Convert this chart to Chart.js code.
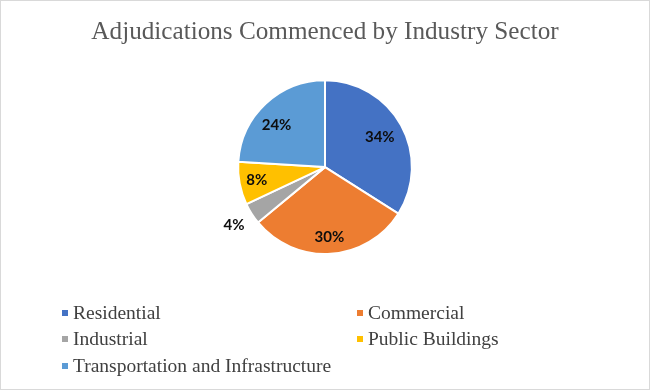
<!DOCTYPE html>
<html>
<head>
<meta charset="utf-8">
<script src="https://cdn.jsdelivr.net/npm/chart.js@4"></script>
<style>
  html, body { margin: 0; padding: 0; background: #fff; }
  #wrap { position: relative; width: 650px; height: 390px; }
  #frame { position: absolute; left: 0; top: 0; width: 650px; height: 390px; box-sizing: border-box; border: 1px solid #d9d9d9; pointer-events: none; }
  .legend-item { position: absolute; font-family: "Liberation Serif", "Times New Roman", serif; font-size: 19.5px; color: #404040; white-space: nowrap; line-height: 20px; }
  .legend-item span { display: inline-block; width: 6px; height: 6px; margin-right: 5px; vertical-align: middle; position: relative; top: -2px; }
</style>
</head>
<body>
<div id="wrap">
  <canvas id="pie" width="650" height="390"></canvas>
  <div id="legend"></div>
  <div id="frame"></div>
</div>
<script>
// data
const sectors = ['Residential', 'Commercial', 'Industrial', 'Public Buildings', 'Transportation and Infrastructure'];
const shares = [34, 30, 4, 8, 24];
const colours = ['#4472C4', '#ED7D31', '#A5A5A5', '#FFC000', '#5B9BD5'];

// percent labels drawn on / beside each slice
const sliceLabels = {
  id: 'sliceLabels',
  afterDatasetsDraw(chart, args, opts) {
    const ctx = chart.ctx;
    const arcs = chart.getDatasetMeta(0).data;
    const total = shares.reduce((a, b) => a + b, 0);
    ctx.save();
    ctx.font = 'bold 15px Lato, "Liberation Sans", sans-serif';
    ctx.fillStyle = '#0d0d0d';
    ctx.textAlign = 'center';
    ctx.textBaseline = 'middle';
    arcs.forEach((arc, i) => {
      const mid = (arc.startAngle + arc.endAngle) / 2 + opts.turn[i];
      const r = arc.outerRadius * opts.radius[i];
      const x = arc.x + Math.cos(mid) * r;
      const y = arc.y + Math.sin(mid) * r;
      ctx.fillText(Math.round(shares[i] / total * 100) + '%', x, y);
    });
    ctx.restore();
  }
};

const chart = new Chart(document.getElementById('pie'), {
  type: 'pie',
  data: {
    labels: sectors,
    datasets: [{
      data: shares,
      backgroundColor: colours,
      borderColor: '#ffffff',
      borderWidth: 2
    }]
  },
  options: {
    responsive: false,
    animation: false,
    layout: { padding: { top: 0, bottom: 135, left: 0, right: 0 } },
    plugins: {
      legend: { display: false },
      tooltip: { enabled: false },
      title: {
        display: true,
        text: 'Adjudications Commenced by Industry Sector',
        color: '#595959',
        font: { family: '"Liberation Serif", "Times New Roman", serif', size: 25.2, weight: 'normal' },
        padding: { top: 17, bottom: 32 }
      },
      sliceLabels: {
        radius: [0.72, 0.81, 1.24, 0.8, 0.74],
        turn: [0, 0, 0, 0, -0.1]
      }
    }
  },
  plugins: [sliceLabels]
});

// legend in two columns under the pie
const legend = document.getElementById('legend');
const cols = [62, 357];
const rows = [303, 329, 356];
sectors.forEach((name, i) => {
  const item = document.createElement('div');
  item.className = 'legend-item';
  item.style.left = cols[i % 2] + 'px';
  item.style.top = rows[Math.floor(i / 2)] + 'px';
  const mark = document.createElement('span');
  mark.style.background = colours[i];
  item.appendChild(mark);
  item.appendChild(document.createTextNode(name));
  legend.appendChild(item);
});
</script>
</body>
</html>
